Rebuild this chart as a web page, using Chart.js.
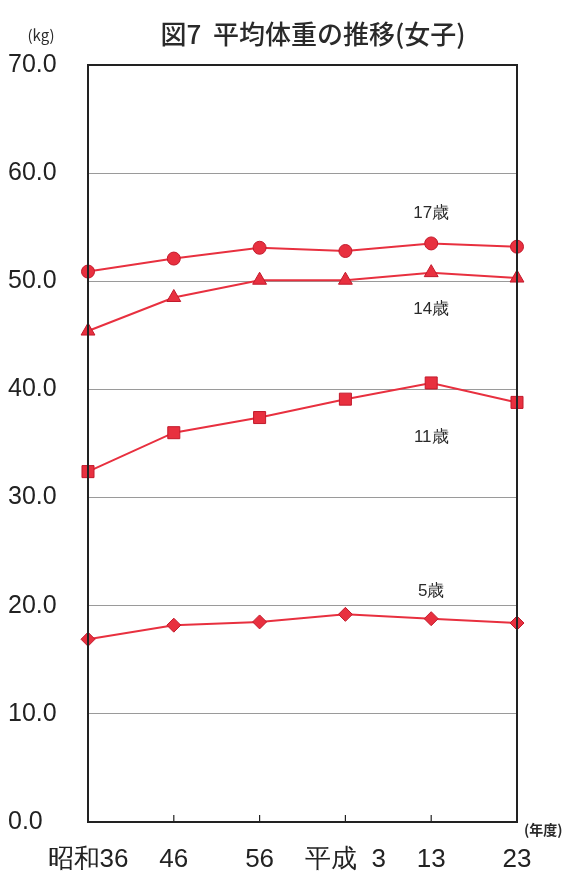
<!DOCTYPE html>
<html lang="ja">
<head>
<meta charset="UTF-8">
<title>図7 平均体重の推移(女子)</title>
<script src="https://cdn.jsdelivr.net/npm/chart.js"></script>
<style>
  body { margin: 0; background: #fff; }
  .box { width: 579px; height: 872px; position: relative; }
</style>
</head>
<body>
<div class="box">
  <canvas id="graf"></canvas>
</div>
<script>
// dados
var anos = ['昭和36', '46', '56', '平成  3', '13', '23'];
var idade17 = [50.9, 52.1, 53.1, 52.8, 53.5, 53.2];
var idade14 = [45.4, 48.5, 50.1, 50.1, 50.8, 50.3];
var idade11 = [32.4, 36.0, 37.4, 39.1, 40.6, 38.8];
var idade5 = [16.9, 18.2, 18.5, 19.2, 18.8, 18.4];
var nomes = ['17歳', '14歳', '11歳', '5歳'];
var nomeValor = [56.3, 47.4, 35.6, 21.3];
var nomeAno = '13';
var yTicks = [0, 10, 20, 30, 40, 50, 60, 70];

var vermelho = '#e8303f';
var borda = '#c21a2c';
var fonteNum = '"Liberation Sans Narrow", "Liberation Sans", Arial, sans-serif';
var fonteJp = '"Noto Sans CJK JP", sans-serif';

// titulo, unidades, moldura e nomes das series
var extras = {
  id: 'extras',
  afterDraw: function (chart) {
    var ctx = chart.ctx;
    var a = chart.chartArea;
    var x = chart.scales.x;
    var y = chart.scales.y;
    ctx.save();
    ctx.strokeStyle = '#222';
    ctx.lineWidth = 2;
    ctx.strokeRect(a.left, a.top, a.right - a.left, a.bottom - a.top);
    // ticks para dentro
    ctx.lineWidth = 1.2;
    for (var i = 1; i < anos.length - 1; i++) {
      var px = x.getPixelForValue(i);
      ctx.beginPath();
      ctx.moveTo(px, a.bottom);
      ctx.lineTo(px, a.bottom - 7);
      ctx.stroke();
    }
    ctx.fillStyle = '#2a2a2a';
    ctx.textBaseline = 'middle';
    ctx.textAlign = 'center';
    ctx.font = '500 26px ' + fonteJp;
    ctx.fillText('図7  平均体重の推移(女子)', 313, 34);
    ctx.font = '15px ' + fonteJp;
    ctx.fillText('(kg)', 41, 35);
    ctx.font = 'bold 14px ' + fonteJp;
    ctx.textAlign = 'left';
    ctx.fillText('(年度)', 524, 830);
    ctx.textAlign = 'center';
    ctx.font = '17px ' + fonteNum;
    var xi = anos.indexOf(nomeAno);
    for (var j = 0; j < nomes.length; j++) {
      ctx.fillText(nomes[j], x.getPixelForValue(xi), y.getPixelForValue(nomeValor[j]));
    }
    ctx.restore();
  }
};

function serie(nome, dados, estilo, raio) {
  return {
    label: nome,
    data: dados,
    borderColor: vermelho,
    borderWidth: 2,
    backgroundColor: vermelho,
    pointBackgroundColor: vermelho,
    pointBorderColor: borda,
    pointBorderWidth: 1,
    pointStyle: estilo,
    pointRadius: raio,
    tension: 0
  };
}

var ctx = document.getElementById('graf').getContext('2d');
new Chart(ctx, {
  type: 'line',
  data: {
    labels: anos,
    datasets: [
      serie(nomes[0], idade17, 'circle', 6.5),
      serie(nomes[1], idade14, 'triangle', 8),
      serie(nomes[2], idade11, 'rect', 8.5),
      serie(nomes[3], idade5, 'rectRot', 7)
    ]
  },
  options: {
    responsive: true,
    maintainAspectRatio: false,
    animation: false,
    layout: { padding: { top: 65, right: 62, left: 8, bottom: 0 } },
    plugins: {
      legend: { display: false },
      tooltip: { enabled: false }
    },
    scales: {
      x: {
        offset: false,
        grid: { display: false },
        border: { display: false },
        ticks: {
          color: '#222',
          font: { family: fonteNum, size: 26 },
          padding: 14,
          maxRotation: 0,
          autoSkip: false
        },
        afterFit: function (s) { s.height = 50; }
      },
      y: {
        min: 0,
        max: 70,
        afterBuildTicks: function (s) {
          s.ticks = yTicks.map(function (v) { return { value: v }; });
        },
        grid: {
          color: '#9a9a9a',
          lineWidth: 1,
          drawTicks: false
        },
        border: { display: false },
        ticks: {
          color: '#222',
          font: { family: fonteNum, size: 25 },
          crossAlign: 'far',
          padding: 6,
          callback: function (v) { return Number(v).toFixed(1); }
        },
        afterFit: function (s) { s.width = 80; }
      }
    }
  },
  plugins: [extras]
});
</script>
</body>
</html>
